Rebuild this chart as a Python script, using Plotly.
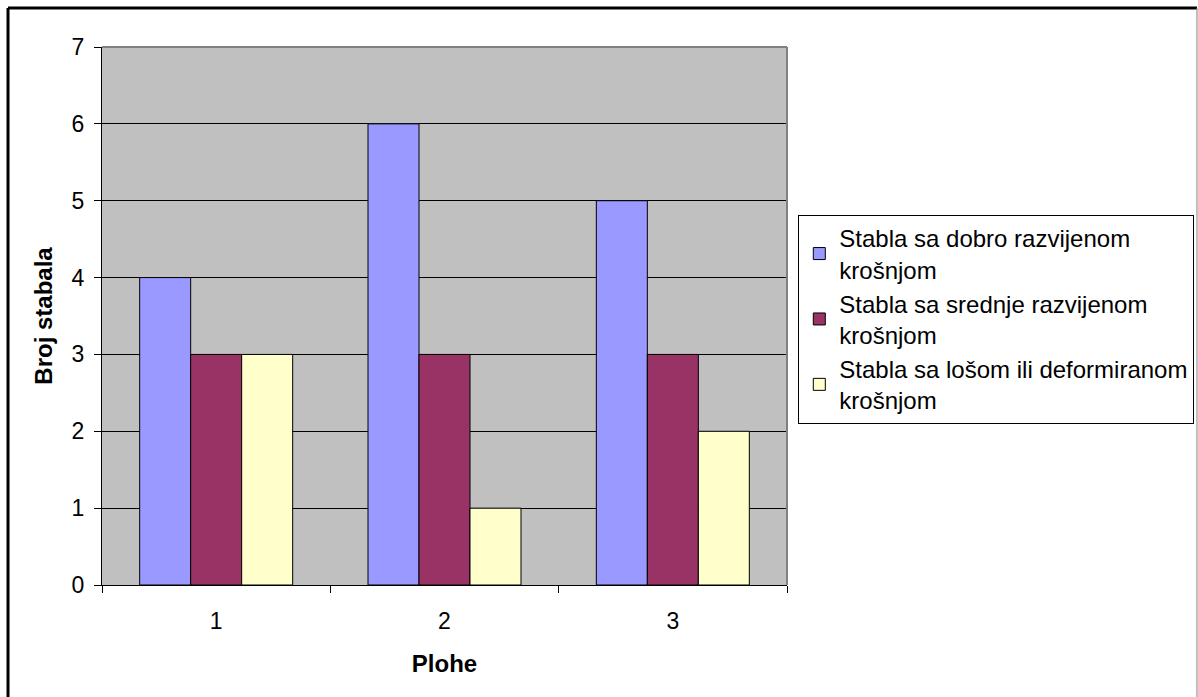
import plotly.graph_objects as go

categories = ["1", "2", "3"]
series_names = [
    "Stabla sa dobro razvijenom<br>krošnjom",
    "Stabla sa srednje razvijenom<br>krošnjom",
    "Stabla sa lošom ili deformiranom<br>krošnjom",
]
dobro = [4, 6, 5]
srednje = [3, 3, 3]
loso = [3, 1, 2]
colors = ["#9999FF", "#993366", "#FFFFCC"]
y_ticks = [0, 1, 2, 3, 4, 5, 6, 7]

FONT = "Liberation Sans, Arial, sans-serif"

fig = go.Figure()
for name, vals, col in zip(series_names, [dobro, srednje, loso], colors):
    fig.add_trace(go.Bar(
        x=categories, y=vals, name=name,
        marker=dict(color=col, line=dict(color="black", width=1)),
    ))

# chart-area frame (decoration, in paper units relative to the plot area)
FX0, FX1, FY0, FY1 = -0.1372, 1.5985, -0.23, 1.0725

fig.update_layout(
    width=1198, height=697,
    margin=dict(l=102, r=411, t=47, b=112, autoexpand=False),
    paper_bgcolor="white", plot_bgcolor="#C0C0C0",
    barmode="group", bargap=0.33, bargroupgap=0,
    font=dict(family=FONT, color="black", size=23),
    showlegend=True,
    legend=dict(
        x=1.0165, y=0.688, xanchor="left", yanchor="top",
        bordercolor="black", borderwidth=1, bgcolor="white",
        font=dict(family=FONT, size=24, color="black"),
        tracegroupgap=0, itemwidth=30,
    ),
    xaxis=dict(
        type="category", tickson="boundaries", ticks="outside", ticklen=7,
        tickcolor="black", showline=True, linecolor="black", linewidth=1,
        showgrid=False, ticklabelstandoff=15,
        tickfont=dict(size=23),
        title=dict(text="<b>Plohe</b>", font=dict(size=24), standoff=22),
    ),
    yaxis=dict(
        range=[0, 7], tickvals=y_ticks, ticks="outside", ticklen=7,
        tickcolor="black", showline=True, linecolor="black", linewidth=1,
        showgrid=True, gridcolor="black", gridwidth=1, zeroline=False,
        tickfont=dict(size=23), ticklabelstandoff=5,
        title=dict(text="<b>Broj stabala</b>", font=dict(size=24), standoff=12),
    ),
    shapes=[
        dict(type="line", xref="paper", yref="paper", x0=0, x1=1, y0=1, y1=1,
             line=dict(color="#808080", width=2), layer="above"),
        dict(type="line", xref="paper", yref="paper", x0=1, x1=1, y0=0, y1=1,
             line=dict(color="#808080", width=2), layer="above"),
        dict(type="line", xref="paper", yref="paper", x0=FX0, x1=FX1, y0=FY1, y1=FY1,
             line=dict(color="black", width=3), layer="above"),
        dict(type="line", xref="paper", yref="paper", x0=FX0, x1=FX0, y0=FY0, y1=FY1,
             line=dict(color="black", width=3), layer="above"),
        dict(type="line", xref="paper", yref="paper", x0=FX1, x1=FX1, y0=FY0, y1=FY1,
             line=dict(color="#808080", width=1), layer="above"),
    ],
)

fig.write_html(
    "out.html",
    config={"displayModeBar": False},
    post_script="document.body.style.margin='0';document.body.style.overflow='hidden';",
)
